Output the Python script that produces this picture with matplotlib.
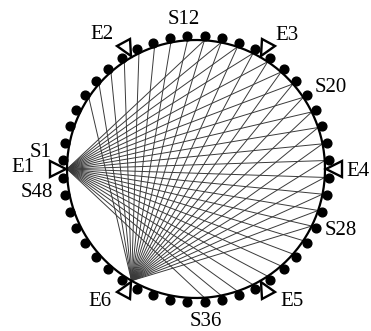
import numpy as np
import matplotlib
matplotlib.use("Agg")
import matplotlib.pyplot as plt
from matplotlib.markers import MarkerStyle
from matplotlib.transforms import Affine2D

# 48 sensors, 6 emitters on a ring (angles in degrees, counter-clockwise from +x)
n_sensors = 48
sensor_angles = 176.25 - 7.5 * np.arange(n_sensors)        # S1 ... S48, clockwise
emitter_names = ["E1", "E2", "E3", "E4", "E5", "E6"]
emitter_angles = [180, 120, 60, 0, -60, -120]

# which sensors each emitter fires to (1-based sensor numbers)
fan_e1 = list(range(13, 37))     # S13 .. S36
fan_e6 = list(range(5, 29))      # S5 .. S28

sensor_labels = ["S1", "S12", "S20", "S28", "S36", "S48"]
# label placement (angle shift in deg, radius)
sensor_label_shift = [-2.2, 1.0, -2.7, 3.4, -0.1, 4.5]
sensor_label_r = [1.21, 1.165, 1.22, 1.22, 1.185, 1.245]
emitter_label_shift = [-0.5, 5, -4.4, -1.0, 5.8, -5.8]
emitter_label_r = [1.34, 1.27, 1.25, 1.255, 1.27, 1.27]

plt.rcParams["font.family"] = ["Liberation Serif", "DejaVu Serif"]

fig = plt.figure(figsize=(3.71, 3.31), dpi=100)
ax = fig.add_axes([0, 0, 1, 1])
R = 129.0
ax.set_xlim(-196 / R, (371 - 196) / R)
ax.set_ylim((169 - 331) / R, 169 / R)
ax.set_aspect("equal")
ax.axis("off")


def pol(r, deg):
    t = np.deg2rad(deg)
    return r * np.cos(t), r * np.sin(t)


# ray paths
for name, fan in [("E1", fan_e1), ("E6", fan_e6)]:
    ex, ey = pol(1.0, emitter_angles[emitter_names.index(name)])
    for s in fan:
        sx, sy = pol(1.0, sensor_angles[s - 1])
        ax.plot([ex, sx], [ey, sy], color="#3a3a3a", lw=0.7, zorder=1)

# ring
th = np.linspace(0, 2 * np.pi, 400)
ax.plot(np.cos(th), np.sin(th), color="black", lw=1.6, zorder=2)

# sensors
sx, sy = pol(1.035, sensor_angles)
ax.plot(sx, sy, "o", color="black", ms=6.3, zorder=3)

# emitters, triangles pointing to centre
for name, a in zip(emitter_names, emitter_angles):
    x, y = pol(1.07, a)
    m = MarkerStyle("^", transform=Affine2D().rotate_deg(a + 90))
    ax.plot(x, y, marker=m, ms=11, mfc="white", mec="black", mew=1.7, zorder=4)

# labels
for name, a, d, r in zip(emitter_names, emitter_angles, emitter_label_shift, emitter_label_r):
    x, y = pol(r, a + d)
    ax.text(x, y, name, ha="center", va="center", fontsize=15)

for name, d, r in zip(sensor_labels, sensor_label_shift, sensor_label_r):
    a = sensor_angles[int(name[1:]) - 1]
    x, y = pol(r, a + d)
    ax.text(x, y, name, ha="center", va="center", fontsize=15)

fig.savefig("out.png", dpi=100)
